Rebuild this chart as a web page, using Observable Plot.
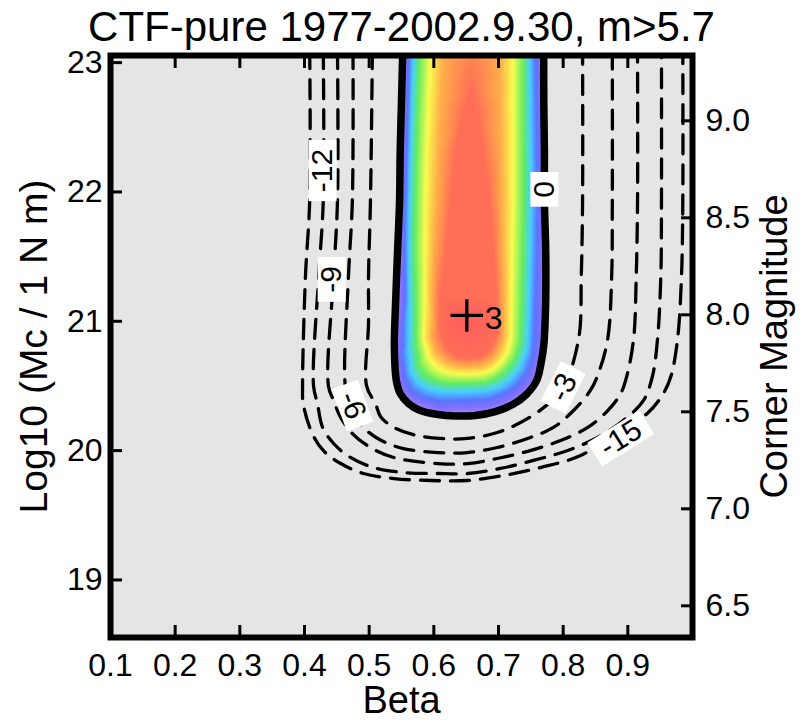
<!DOCTYPE html>
<html>
<head>
<meta charset="utf-8">
<script src="https://cdn.jsdelivr.net/npm/d3@7"></script>
<script src="https://cdn.jsdelivr.net/npm/@observablehq/plot@0.6"></script>
<style>
  html, body { margin: 0; padding: 0; background: white; }
</style>
</head>
<body>
<div id="chart"></div>
<script>
// ---------- Data ----------
const title = "CTF-pure 1977-2002.9.30, m>5.7";
const betaTicks = [0.1, 0.2, 0.3, 0.4, 0.5, 0.6, 0.7, 0.8, 0.9];
const logTicks = [19, 20, 21, 22, 23];
const magTicks = [6.5, 7.0, 7.5, 8.0, 8.5, 9.0];
const MW_OFFSET = 9.05; // Mw = (2/3)(log10 M0 - 9.05)

// contour lines: [beta, log10 Mc]
const c0 = [[0.552,23.1],[0.550,22.71],[0.548,22.32],[0.547,21.93],[0.544,21.55],[0.541,21.16],[0.539,20.80],[0.542,20.542],[0.548,20.442],[0.561,20.364],[0.579,20.310],[0.606,20.279],[0.633,20.268],[0.664,20.271],[0.695,20.302],[0.722,20.356],[0.743,20.434],[0.759,20.542],[0.766,20.681],[0.770,20.813],[0.773,21.16],[0.773,21.55],[0.771,21.93],[0.771,22.32],[0.770,22.71],[0.770,23.1]];
const cm3 = [[0.505,23.1],[0.502,21.93],[0.499,21.35],[0.499,20.98],[0.496,20.50],[0.510,20.36],[0.518,20.26],[0.538,20.18],[0.567,20.125],[0.610,20.094],[0.652,20.094],[0.698,20.14],[0.734,20.217],[0.770,20.333],[0.800,20.488],[0.824,20.867],[0.828,21.35],[0.830,21.93],[0.830,23.1]];
const cm6 = [[0.475,23.1],[0.474,21.93],[0.468,21.35],[0.463,20.50],[0.471,20.33],[0.491,20.18],[0.518,20.08],[0.553,20.016],[0.606,19.985],[0.652,19.985],[0.698,20.024],[0.745,20.094],[0.785,20.179],[0.816,20.31],[0.842,20.465],[0.855,20.604],[0.869,20.867],[0.875,21.35],[0.876,21.93],[0.876,23.1]];
const cm9 = [[0.451,23.1],[0.451,21.93],[0.445,21.35],[0.437,20.50],[0.445,20.387],[0.456,20.256],[0.474,20.132],[0.502,20.024],[0.538,19.947],[0.606,19.90],[0.652,19.90],[0.698,19.939],[0.749,20.0],[0.796,20.078],[0.838,20.179],[0.869,20.31],[0.889,20.442],[0.899,20.588],[0.909,20.867],[0.913,21.35],[0.915,21.93],[0.915,23.1]];
const cm12 = [[0.429,23.1],[0.429,21.93],[0.422,21.35],[0.414,20.50],[0.420,20.364],[0.428,20.179],[0.445,20.055],[0.471,19.947],[0.507,19.869],[0.553,19.831],[0.606,19.823],[0.652,19.823],[0.703,19.862],[0.754,19.924],[0.807,20.001],[0.853,20.101],[0.893,20.233],[0.924,20.387],[0.938,20.573],[0.946,20.867],[0.951,21.35],[0.952,21.93],[0.952,23.1]];
const cm15 = [[0.408,23.1],[0.408,21.93],[0.4015,21.35],[0.397,20.50],[0.398,20.364],[0.412,20.132],[0.429,20.001],[0.456,19.90],[0.491,19.823],[0.538,19.784],[0.595,19.769],[0.652,19.769],[0.708,19.808],[0.765,19.869],[0.827,19.962],[0.878,20.125],[0.930,20.287],[0.955,20.442],[0.967,20.581],[0.977,20.867],[0.983,21.35],[0.985,21.93],[0.985,23.1]];

// interior colour levels of the likelihood surface
const b02 = [[0.556,23.1],[0.554,22.71],[0.553,22.32],[0.551,21.93],[0.550,21.55],[0.550,21.16],[0.547,20.85],[0.545,20.74],[0.548,20.542],[0.559,20.442],[0.576,20.380],[0.601,20.341],[0.641,20.341],[0.681,20.349],[0.708,20.387],[0.732,20.457],[0.750,20.558],[0.760,20.712],[0.764,20.85],[0.766,21.16],[0.767,21.55],[0.767,21.93],[0.766,22.32],[0.766,22.71],[0.765,23.1]];
const b04 = [[0.562,23.1],[0.560,22.71],[0.558,22.32],[0.556,21.93],[0.555,21.55],[0.556,21.16],[0.553,20.80],[0.556,20.558],[0.565,20.472],[0.581,20.418],[0.604,20.387],[0.644,20.387],[0.681,20.395],[0.705,20.434],[0.726,20.496],[0.743,20.596],[0.753,20.735],[0.755,20.85],[0.757,21.16],[0.759,21.55],[0.760,21.93],[0.759,22.32],[0.758,22.71],[0.757,23.1]];
const b08 = [[0.569,23.1],[0.566,22.71],[0.564,22.32],[0.562,21.93],[0.561,21.55],[0.562,21.16],[0.561,20.80],[0.565,20.604],[0.576,20.527],[0.592,20.480],[0.612,20.457],[0.649,20.457],[0.681,20.465],[0.702,20.496],[0.719,20.558],[0.733,20.643],[0.743,20.774],[0.745,20.85],[0.747,21.16],[0.749,21.55],[0.750,21.93],[0.750,22.32],[0.749,22.71],[0.748,23.1]];
const b12 = [[0.578,23.1],[0.575,22.71],[0.573,22.32],[0.571,21.93],[0.570,21.55],[0.572,21.16],[0.572,20.85],[0.576,20.658],[0.587,20.581],[0.601,20.542],[0.621,20.519],[0.651,20.519],[0.680,20.527],[0.697,20.558],[0.712,20.619],[0.725,20.712],[0.733,20.828],[0.736,21.16],[0.738,21.55],[0.739,21.93],[0.739,22.32],[0.739,22.71],[0.739,23.1]];
const b17 = [[0.595,23.1],[0.592,22.71],[0.589,22.32],[0.587,21.93],[0.586,21.55],[0.586,21.16],[0.586,20.836],[0.592,20.720],[0.603,20.650],[0.617,20.612],[0.630,20.596],[0.652,20.588],[0.675,20.596],[0.691,20.627],[0.703,20.681],[0.714,20.766],[0.719,20.882],[0.720,21.16],[0.721,21.55],[0.722,21.93],[0.722,22.32],[0.722,22.71],[0.722,23.1]];
const b22 = [[0.615,23.1],[0.611,22.71],[0.607,22.32],[0.604,21.93],[0.600,21.55],[0.597,21.16],[0.596,20.867],[0.604,20.759],[0.618,20.689],[0.634,20.658],[0.652,20.650],[0.672,20.658],[0.688,20.697],[0.698,20.759],[0.706,20.851],[0.708,21.16],[0.706,21.55],[0.705,21.93],[0.704,22.32],[0.703,22.71],[0.702,23.1]];
const b26 = [[0.658,22.78],[0.646,22.60],[0.634,22.32],[0.627,21.93],[0.619,21.55],[0.609,21.16],[0.609,20.929],[0.620,20.790],[0.635,20.728],[0.652,20.712],[0.672,20.728],[0.688,20.782],[0.698,20.913],[0.697,21.16],[0.692,21.55],[0.686,21.93],[0.676,22.32],[0.668,22.60]];
const peak = {beta: 0.651, logMc: 21.045, value: 3.0, label: "3"};
const topCenter = {beta: 0.658, logMc: 23.1, value: 2.45};

const contourLabels = [
  {beta: 0.771, logMc: 22.02, text: "0", angle: -90},
  {beta: 0.428, logMc: 22.166, text: "-12", angle: -90},
  {beta: 0.442, logMc: 21.323, text: "-9", angle: -90},
  {beta: 0.474, logMc: 20.349, text: "-6", angle: 70},
  {beta: 0.800, logMc: 20.488, text: "-3", angle: -63},
  {beta: 0.889, logMc: 20.094, text: "-15", angle: -32}
];

const dashedContours = [
  {level: -3, points: cm3}, {level: -6, points: cm6}, {level: -9, points: cm9},
  {level: -12, points: cm12}, {level: -15, points: cm15}
];
const bands = [
  {level: 0, points: c0}, {level: 0.2, points: b02}, {level: 0.4, points: b04},
  {level: 0.8, points: b08}, {level: 1.2, points: b12}, {level: 1.7, points: b17},
  {level: 2.2, points: b22}, {level: 2.6, points: b26}
];

const colorLevels = [-20, -0.001, 0, 0.2, 0.4, 0.8, 1.2, 1.7, 2.2, 2.6, 3.0];
const colorRange = ["#e5e5e5", "#e5e5e5", "#a88cff", "#8070ff", "#5a74ff", "#48d0ff", "#62ec62", "#fafc50", "#ffae4a", "#ff6e57", "#ff5c5c"];

// sample table for the raster (built from the arrays above)
const field = [
  ...dashedContours.flatMap(c => c.points.map(([beta, logMc]) => ({beta, logMc, v: c.level}))),
  ...bands.flatMap(c => c.points.map(([beta, logMc]) => ({beta, logMc, v: c.level}))),
  {beta: peak.beta, logMc: peak.logMc, v: peak.value},
  {beta: topCenter.beta, logMc: topCenter.logMc, v: topCenter.value}
];

const font = "'Liberation Sans', Arial, Helvetica, sans-serif";

const svg = Plot.plot({
  width: 807,
  height: 720,
  marginLeft: 110,
  marginRight: 115,
  marginTop: 55,
  marginBottom: 83,
  x: {domain: [0.1, 1.0]},
  y: {domain: [18.555, 23.055]},
  color: {type: "linear", domain: colorLevels, range: colorRange, interpolate: "rgb", clamp: true},
  style: {fontFamily: font, fontSize: "32px", color: "black", background: "white"},
  marks: [
    Plot.frame({fill: "#e5e5e5"}),
    Plot.raster(field, {x: "beta", y: "logMc", fill: "v", interpolate: "barycentric"}),
    ...dashedContours.map(c => Plot.line(c.points, {
      x: d => d[0], y: d => d[1], curve: "catmull-rom", stroke: "black",
      strokeWidth: 3.3, strokeDasharray: "19,11", clip: true
    })),
    Plot.line(c0, {x: d => d[0], y: d => d[1], curve: "catmull-rom", stroke: "black", strokeWidth: 7.5, clip: true}),
    Plot.text(contourLabels, {x: "beta", y: "logMc", text: "text", rotate: "angle", fontSize: 30, lineAnchor: "middle", fill: "black"}),
    Plot.dot([peak], {x: "beta", y: "logMc", symbol: "plus", r: 10.5, stroke: "black", strokeWidth: 3.3}),
    Plot.text([peak], {x: "beta", y: "logMc", text: "label", dx: 18, dy: 3, textAnchor: "start", lineAnchor: "middle", fontSize: 32}),
    Plot.frame({stroke: "black", strokeWidth: 6}),
    Plot.axisX(betaTicks, {anchor: "bottom", tickSize: -12, tickPadding: 28, tickFormat: d3.format(".1f"), strokeWidth: 3, label: null, fontSize: 32}),
    Plot.axisX(betaTicks, {anchor: "top", tickSize: -12, tickFormat: () => "", strokeWidth: 3, label: null}),
    Plot.axisY(logTicks, {anchor: "left", tickSize: -12, tickPadding: 20, tickFormat: d => String(d), strokeWidth: 3, label: null, fontSize: 32}),
    Plot.axisY(magTicks.map(m => 1.5 * m + MW_OFFSET), {anchor: "right", tickSize: -12, tickPadding: 25, tickFormat: v => ((v - MW_OFFSET) / 1.5).toFixed(1), strokeWidth: 3, label: null, fontSize: 32}),
    Plot.text([title], {frameAnchor: "top", dy: -44, lineAnchor: "top", fontSize: 42}),
    Plot.text(["Beta"], {frameAnchor: "bottom", dy: 63, lineAnchor: "middle", textAnchor: "middle", fontSize: 38}),
    Plot.text(["Log10 (Mc / 1 N m)"], {frameAnchor: "left", dx: -76, rotate: -90, lineAnchor: "middle", textAnchor: "middle", fontSize: 39}),
    Plot.text(["Corner Magnitude"], {frameAnchor: "right", dx: 82, rotate: -90, lineAnchor: "middle", textAnchor: "middle", fontSize: 38})
  ]
});

document.getElementById("chart").append(svg);

// white boxes behind the contour labels
const labelSet = new Set(contourLabels.map(d => d.text));
svg.querySelectorAll("text").forEach(t => {
  const tr = t.getAttribute("transform");
  if (!tr || !tr.includes("rotate") || !labelSet.has(t.textContent)) return;
  const b = t.getBBox();
  const r = document.createElementNS("http://www.w3.org/2000/svg", "rect");
  r.setAttribute("x", b.x - 9);
  r.setAttribute("width", b.width + 18);
  r.setAttribute("y", -14);
  r.setAttribute("height", 28);
  r.setAttribute("transform", tr);
  r.setAttribute("fill", "white");
  t.parentNode.insertBefore(r, t);
});
</script>
</body>
</html>
